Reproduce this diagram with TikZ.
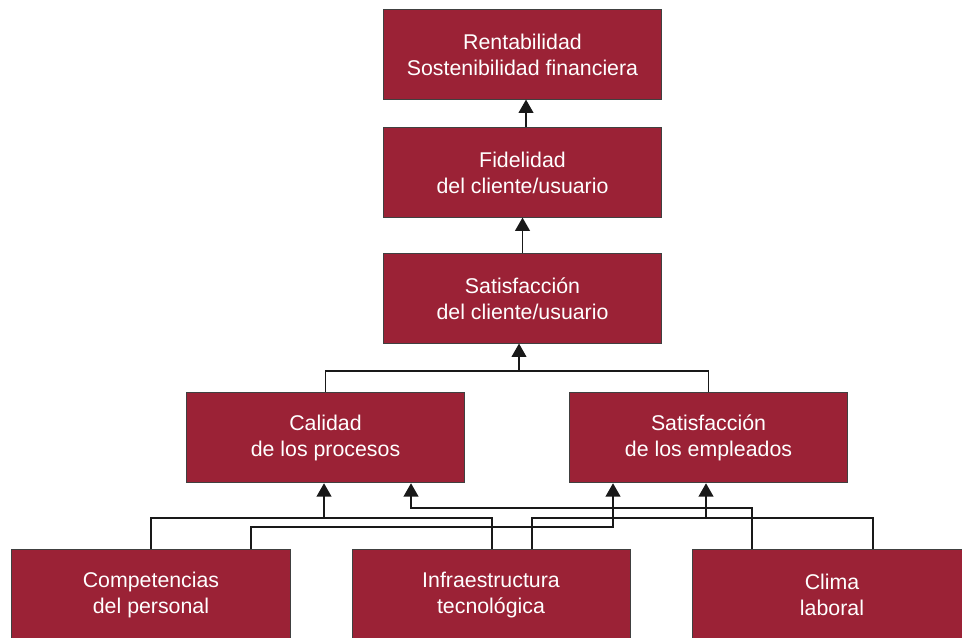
\documentclass[tikz,border=0pt]{standalone}
\usepackage{fontspec}
\setmainfont{Liberation Sans}
\usetikzlibrary{arrows.meta,calc}
\definecolor{boxred}{RGB}{155,34,54}
\tikzset{
	box/.style={draw=black!75, line width=0.6pt, fill=boxred, text=white,
			minimum width=209pt, minimum height=67pt, inner sep=0pt, align=center,
			font=\fontsize{16}{19.5}\selectfont},
	link/.style={line width=1.4pt, black!90},
	>={Triangle[width=11pt,length=10pt]}
}

\begin{document}
\begin{tikzpicture}[x=0.75pt,y=-0.75pt]
	\useasboundingbox (0,0) rectangle (962,637);

	\node[box] (rent) at (522.5,54.5) {Rentabilidad\\Sostenibilidad financiera};
	\node[box] (fidel) at (522.5,172.5) {Fidelidad\\del cliente/usuario};
	\node[box] (satcli) at (522.5,298.5) {Satisfacción\\del cliente/usuario};

	\node[box, minimum width=208pt, minimum height=68pt] (calidad) at (325.5,437.5) {Calidad\\de los procesos};
	\node[box, minimum height=68pt] (satemp) at (708.5,437.5) {Satisfacción\\de los empleados};

	\node[box] (comp) at (151,594.5) {Competencias\\del personal};
	\node[box, minimum width=208.5pt] (infra) at (491,594.5) {Infraestructura\\tecnológica};
	\node[box] (clima) at (832,594.5) {Clima\\laboral};

	% upper chain
	\draw[link,->] ($(fidel.north)+(3.5,0)$) -- ($(rent.south)+(3.5,0)$);
	\draw[link,->] (satcli.north) -- (fidel.south);

	% middle level
	\coordinate (j3) at ($(satcli.south)+(-3.5,27)$);
	\draw[link] (calidad.north) |- (j3) -| (satemp.north);
	\draw[link,->] (j3) -- ($(satcli.south)+(-3.5,0)$);

	% bottom level
	\coordinate (j1) at ($(calidad.south)+(-1.5,35)$);
	\draw[link] (comp.north) |- (j1) -| ($(infra.north)+(1,0)$);
	\draw[link,->] (j1) -- ($(calidad.south)+(-1.5,0)$);

	\draw[link,->] ($(clima.north)+(-80,0)$) |- ($(calidad.south)+(85.5,25)$) -- ($(calidad.south)+(85.5,0)$);
	\draw[link,->] ($(comp.north)+(100,0)$) |- ($(satemp.south)+(-95.5,44)$) -- ($(satemp.south)+(-95.5,0)$);

	\coordinate (j2) at ($(satemp.south)+(-2.5,35)$);
	\draw[link] ($(infra.north)+(41,0)$) |- (j2) -| ($(clima.north)+(41,0)$);
	\draw[link,->] (j2) -- ($(satemp.south)+(-2.5,0)$);
\end{tikzpicture}
\end{document}
